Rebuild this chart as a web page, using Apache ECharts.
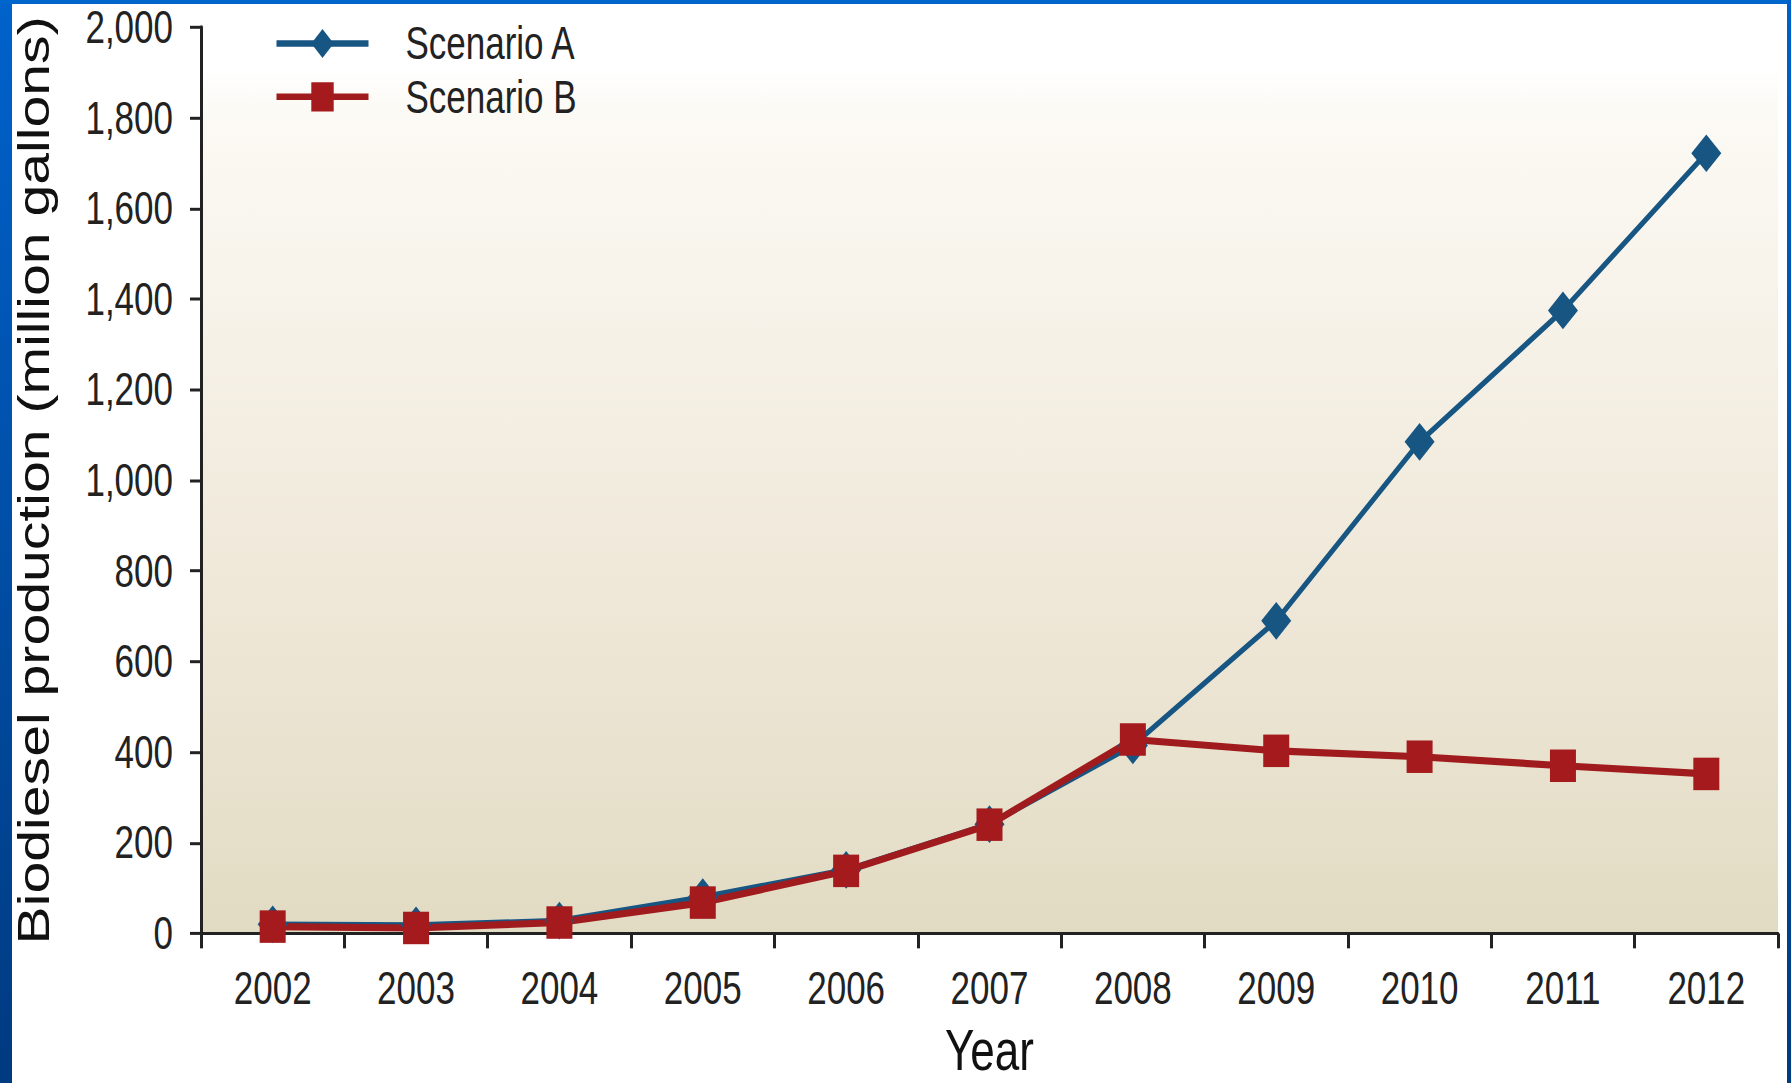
<!DOCTYPE html>
<html>
<head>
<meta charset="utf-8">
<script src="https://cdn.jsdelivr.net/npm/echarts@6/dist/echarts.min.js"></script>
<style>
  html, body { margin: 0; padding: 0; background: #ffffff; overflow: hidden; }
  #chart { position: absolute; left: 0; top: 0; width: 1791px; height: 833px;
           transform: scaleY(1.3); transform-origin: 0 0; }
  .bar { position: absolute; z-index: 5; }
  #bl { left: 0; top: 0; width: 12px; height: 1083px; background: linear-gradient(#0062cc, #003a80); }
  #bt { left: 0; top: 0; width: 1791px; height: 4px; background: #0066cc; }
  #br { left: 1787px; top: 0; width: 4px; height: 1083px; background: linear-gradient(#0060c8, #003a80); }
</style>
</head>
<body>
<div id="chart"></div>
<div class="bar" id="bl"></div>
<div class="bar" id="bt"></div>
<div class="bar" id="br"></div>
<script>
const years = ['2002','2003','2004','2005','2006','2007','2008','2009','2010','2011','2012'];
const scenarioA = [20, 18, 28, 80, 140, 241, 415, 690, 1085, 1375, 1722];
const scenarioB = [15, 12, 24, 68, 138, 240, 428, 403, 390, 370, 352];
const seriesNames = ['Scenario A', 'Scenario B'];
const yTicks = { min: 0, max: 2000, interval: 200 };

const sans = "'Liberation Sans', Arial, Helvetica, sans-serif";
const chart = echarts.init(document.getElementById('chart'), null, { renderer: 'svg' });
chart.setOption({
  animation: false,
  backgroundColor: '#ffffff',
  grid: {
    left: 201, top: 21, width: 1577, height: 697,
    containLabel: false, outerBoundsMode: 'none',
    show: true, borderWidth: 0,
    backgroundColor: {
      type: 'linear', x: 0, y: 0, x2: 0, y2: 1,
      colorStops: [
        { offset: 0, color: '#ffffff' },
        { offset: 0.045, color: '#ffffff' },
        { offset: 0.09, color: '#fcfaf5' },
        { offset: 0.35, color: '#f6f1e7' },
        { offset: 0.65, color: '#eee7d7' },
        { offset: 1, color: '#e2dbc3' }
      ]
    }
  },
  legend: {
    orient: 'vertical', left: 274, top: 16, padding: 0,
    itemWidth: 92, itemHeight: 28, itemGap: 6,
    lineStyle: { width: 5 },
    textStyle: { fontFamily: sans, fontSize: 35, color: '#222', padding: [0, 0, 0, 32] },
    data: seriesNames
  },
  xAxis: {
    type: 'category', data: years, boundaryGap: true,
    name: 'Year', nameLocation: 'middle', nameGap: 68,
    nameTextStyle: { fontFamily: sans, fontSize: 44, lineHeight: 44, color: '#111' },
    axisLine: { lineStyle: { color: '#222', width: 2.3 } },
    axisTick: { show: true, inside: false, length: 11.5, lineStyle: { color: '#222', width: 3 } },
    axisLabel: { fontFamily: sans, fontSize: 35, color: '#222', margin: 25 }
  },
  yAxis: {
    type: 'value', min: yTicks.min, max: yTicks.max, interval: yTicks.interval,
    name: 'Biodiesel production (million gallons)', nameLocation: 'middle', nameGap: 145,
    nameTextStyle: { fontFamily: sans, fontSize: 44, color: '#111' },
    axisLine: { show: true, lineStyle: { color: '#222', width: 3 } },
    axisTick: { show: true, inside: false, length: 11, lineStyle: { color: '#222', width: 2.3 } },
    splitLine: { show: false },
    axisLabel: {
      fontFamily: sans, fontSize: 35, color: '#222', margin: 28,
      formatter: v => v.toLocaleString('en-US')
    }
  },
  series: [
    {
      name: seriesNames[0], type: 'line', data: scenarioA,
      symbol: 'diamond', symbolSize: [30, 29],
      lineStyle: { color: '#175582', width: 4.5 },
      itemStyle: { color: '#175582' }
    },
    {
      name: seriesNames[1], type: 'line', data: scenarioB,
      symbol: 'rect', symbolSize: [26, 25],
      lineStyle: { color: '#a01b1d', width: 5.5 },
      itemStyle: { color: '#a51b1d' }
    }
  ]
});
</script>
</body>
</html>
